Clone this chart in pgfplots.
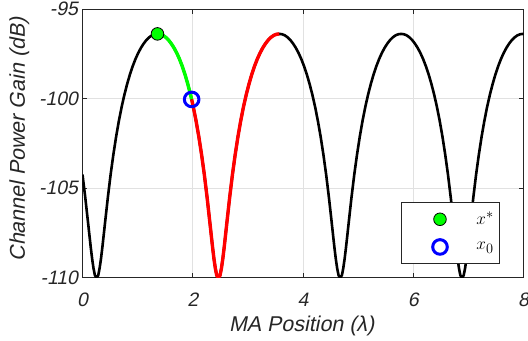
\documentclass[border=0pt]{standalone}
\usepackage{pgfplots}
\pgfplotsset{compat=1.18}
\usepackage{fontspec}
\setmainfont{Liberation Sans}
\newfontfamily\slsans{Liberation Sans}[FakeSlant=0.2]
\definecolor{axgray}{RGB}{38,38,38}
\definecolor{gridgray}{RGB}{225,225,225}
\definecolor{mgreen}{RGB}{0,255,0}
\definecolor{mred}{RGB}{255,0,0}
\definecolor{mblue}{RGB}{0,0,255}
\begin{document}
\begin{tikzpicture}
\begin{axis}[
 width=441bp, height=268.5bp, scale only axis,
 xmin=0, xmax=8, ymin=-110, ymax=-95,
 xtick={0,2,4,6,8}, ytick={-110,-105,-100,-95},
 tick align=inside, tick pos=both, major tick length=5bp,
 axis line style={axgray, line width=0.8bp},
 every tick/.style={axgray, line width=0.8bp},
 grid=major, major grid style={gridgray, line width=0.7bp},
 /pgf/number format/assume math mode=true,
 ticklabel style={font=\fontsize{19.5}{20}\selectfont\slsans, text=axgray},
 xticklabel style={anchor=base, yshift=-28.3bp},
 yticklabel style={anchor=east, xshift=-1bp},
 every axis x label/.style={at={(axis description cs:0.497,-0.202)}, anchor=base, font=\fontsize{21.5}{23}\selectfont\slsans, text=axgray},
 every axis y label/.style={at={(axis description cs:-0.143,0.515)}, rotate=90, anchor=center, font=\fontsize{21.5}{23}\selectfont\slsans, text=axgray},
 xlabel={MA Position (λ)},
 ylabel={Channel Power Gain (dB)},
 legend style={at={(axis description cs:0.947,0.051)}, anchor=south east,
   draw=axgray, line width=0.8bp, fill=white, inner xsep=4bp, inner ysep=2.8bp,
   font=\fontsize{19}{20}\selectfont, row sep=0bp,
   /tikz/every odd column/.style={column sep=0bp}},
 legend cell align=left,
 legend image code/.code={\path[draw=none,fill=none] (0bp,-13.85bp) rectangle (69.5bp,13.85bp); \draw[#1] plot coordinates {(35bp,0bp)};},
]
\addplot[black, line width=2.6bp, forget plot] coordinates {
(0.000,-104.24)(0.050,-105.51)(0.100,-106.90)(0.125,-107.61)(0.150,-108.31)(0.175,-108.95)(0.200,-109.48)(0.225,-109.87)(0.255,-110.00)
(0.285,-109.87)(0.310,-109.48)(0.335,-108.95)(0.360,-108.31)(0.385,-107.61)(0.410,-106.90)(0.460,-105.51)(0.510,-104.24)(0.560,-103.12)(0.610,-102.12)(0.660,-101.24)(0.710,-100.46)(0.760,-99.78)(0.810,-99.18)(0.860,-98.65)(0.910,-98.19)(0.960,-97.79)(1.010,-97.45)(1.060,-97.16)(1.110,-96.92)(1.160,-96.72)(1.210,-96.57)(1.260,-96.46)(1.310,-96.40)(1.360,-96.38)
(1.410,-96.40)(1.460,-96.46)(1.510,-96.57)(1.560,-96.72)(1.610,-96.92)(1.660,-97.16)(1.710,-97.45)(1.760,-97.79)(1.810,-98.19)(1.860,-98.65)(1.910,-99.18)(1.960,-99.78)(1.980,-100.04)(2.010,-100.46)(2.060,-101.24)(2.110,-102.12)(2.160,-103.12)(2.210,-104.24)(2.260,-105.51)(2.310,-106.90)(2.335,-107.61)(2.360,-108.31)(2.385,-108.95)(2.410,-109.48)(2.435,-109.87)(2.465,-110.00)
(2.495,-109.87)(2.520,-109.48)(2.545,-108.95)(2.570,-108.31)(2.595,-107.61)(2.620,-106.90)(2.670,-105.51)(2.720,-104.24)(2.770,-103.12)(2.820,-102.12)(2.870,-101.24)(2.920,-100.46)(2.970,-99.78)(3.020,-99.18)(3.070,-98.65)(3.120,-98.19)(3.170,-97.79)(3.220,-97.45)(3.270,-97.16)(3.320,-96.92)(3.370,-96.72)(3.420,-96.57)(3.470,-96.46)(3.520,-96.40)(3.570,-96.38)
(3.620,-96.40)(3.670,-96.46)(3.720,-96.57)(3.770,-96.72)(3.820,-96.92)(3.870,-97.16)(3.920,-97.45)(3.970,-97.79)(4.020,-98.19)(4.070,-98.65)(4.120,-99.18)(4.170,-99.78)(4.220,-100.46)(4.270,-101.24)(4.320,-102.12)(4.370,-103.12)(4.420,-104.24)(4.470,-105.51)(4.520,-106.90)(4.545,-107.61)(4.570,-108.31)(4.595,-108.95)(4.620,-109.48)(4.645,-109.87)(4.675,-110.00)
(4.705,-109.87)(4.730,-109.48)(4.755,-108.95)(4.780,-108.31)(4.805,-107.61)(4.830,-106.90)(4.880,-105.51)(4.930,-104.24)(4.980,-103.12)(5.030,-102.12)(5.080,-101.24)(5.130,-100.46)(5.180,-99.78)(5.230,-99.18)(5.280,-98.65)(5.330,-98.19)(5.380,-97.79)(5.430,-97.45)(5.480,-97.16)(5.530,-96.92)(5.580,-96.72)(5.630,-96.57)(5.680,-96.46)(5.730,-96.40)(5.780,-96.38)
(5.830,-96.40)(5.880,-96.46)(5.930,-96.57)(5.980,-96.72)(6.030,-96.92)(6.080,-97.16)(6.130,-97.45)(6.180,-97.79)(6.230,-98.19)(6.280,-98.65)(6.330,-99.18)(6.380,-99.78)(6.430,-100.46)(6.480,-101.24)(6.530,-102.12)(6.580,-103.12)(6.630,-104.24)(6.680,-105.51)(6.730,-106.90)(6.755,-107.61)(6.780,-108.31)(6.805,-108.95)(6.830,-109.48)(6.855,-109.87)(6.885,-110.00)
(6.915,-109.87)(6.940,-109.48)(6.965,-108.95)(6.990,-108.31)(7.015,-107.61)(7.040,-106.90)(7.090,-105.51)(7.140,-104.24)(7.190,-103.12)(7.240,-102.12)(7.290,-101.24)(7.340,-100.46)(7.390,-99.78)(7.440,-99.18)(7.490,-98.65)(7.540,-98.19)(7.590,-97.79)(7.640,-97.45)(7.690,-97.16)(7.740,-96.92)(7.790,-96.72)(7.840,-96.57)(7.890,-96.46)(7.940,-96.40)(7.990,-96.38)(8.000,-96.38)
};
\addplot[mgreen, line width=3.4bp, forget plot] coordinates {
(1.360,-96.38)(1.410,-96.40)(1.460,-96.46)(1.510,-96.57)(1.560,-96.72)(1.610,-96.92)(1.660,-97.16)(1.710,-97.45)(1.760,-97.79)(1.810,-98.19)(1.860,-98.65)(1.910,-99.18)(1.960,-99.78)(1.980,-100.04)
};
\addplot[mred, line width=3.4bp, forget plot] coordinates {
(1.980,-100.04)(2.010,-100.46)(2.060,-101.24)(2.110,-102.12)(2.160,-103.12)(2.210,-104.24)(2.260,-105.51)(2.310,-106.90)(2.335,-107.61)(2.360,-108.31)(2.385,-108.95)(2.410,-109.48)(2.435,-109.87)(2.465,-110.00)
(2.495,-109.87)(2.520,-109.48)(2.545,-108.95)(2.570,-108.31)(2.595,-107.61)(2.620,-106.90)(2.670,-105.51)(2.720,-104.24)(2.770,-103.12)(2.820,-102.12)(2.870,-101.24)(2.920,-100.46)(2.970,-99.78)(3.020,-99.18)(3.070,-98.65)(3.120,-98.19)(3.170,-97.79)(3.220,-97.45)(3.270,-97.16)(3.320,-96.92)(3.370,-96.72)(3.420,-96.57)(3.470,-96.46)(3.520,-96.40)(3.570,-96.38)
};
\addplot[only marks, mark=*, mark size=6.3bp, mark options={fill=mgreen, draw=black, line width=0.8bp}] coordinates {(1.360,-96.38)};
\addlegendentry{$x^{*}$}
\addplot[only marks, mark=o, mark size=7.3bp, mark options={draw=mblue, line width=3bp}] coordinates {(1.980,-100.04)};
\addlegendentry{$x_{0}$}
\end{axis}
\pgfresetboundingbox
\path (current axis.south west) ++(-82.5bp,-63.3bp) rectangle ++(528bp,341bp);
\end{tikzpicture}
\end{document}
